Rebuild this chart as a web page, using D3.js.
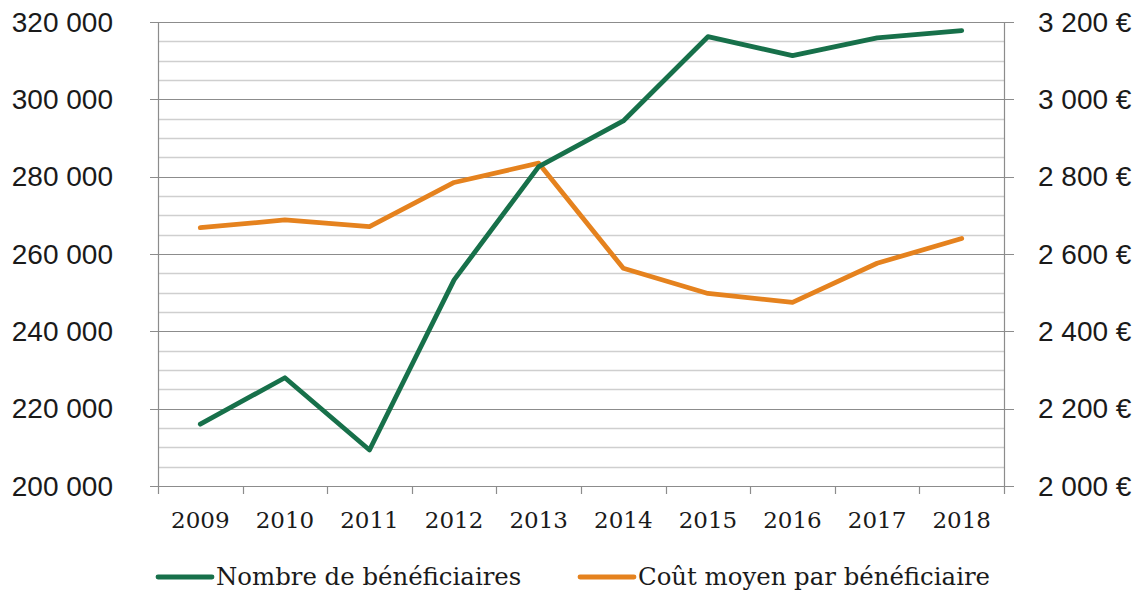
<!DOCTYPE html>
<html>
<head>
<meta charset="utf-8">
<script src="https://cdn.jsdelivr.net/npm/d3@7"></script>
<style>
  html, body { margin: 0; padding: 0; background: #fff; }
  svg { display: block; }
</style>
</head>
<body>
<svg id="chart" width="1143" height="591"></svg>
<script>
const years = ["2009","2010","2011","2012","2013","2014","2015","2016","2017","2018"];
const beneficiaires = [216000, 228000, 209300, 253300, 282600, 294400, 316200, 311300, 315900, 317750];
const coutMoyen = [2668, 2688, 2671, 2785, 2835, 2563, 2498, 2475, 2576, 2640];
const leftTicks = [200000, 220000, 240000, 260000, 280000, 300000, 320000];
const rightTicks = [2000, 2200, 2400, 2600, 2800, 3000, 3200];
const seriesNames = ["Nombre de bénéficiaires", "Coût moyen par bénéficiaire"];

const svg = d3.select("#chart");
const m = { left: 158, right: 1004, top: 22, bottom: 486 };

const x = d3.scaleBand().domain(years).range([m.left, m.right]).padding(0);
const yL = d3.scaleLinear().domain([200000, 320000]).range([m.bottom, m.top]);
const yR = d3.scaleLinear().domain([2000, 3200]).range([m.bottom, m.top]);

const fmtSpace = v => d3.format(",")(v).replace(/,/g, " ");

// minor gridlines (every 5000)
const minor = d3.range(205000, 320000, 5000).filter(v => v % 20000 !== 0);
svg.append("g").selectAll("line").data(minor).join("line")
  .attr("x1", m.left).attr("x2", m.right)
  .attr("y1", d => Math.round(yL(d)) + 0.5).attr("y2", d => Math.round(yL(d)) + 0.5)
  .attr("stroke", "#cfcfcf").attr("stroke-width", 1.3);

// major gridlines
svg.append("g").selectAll("line").data(leftTicks).join("line")
  .attr("x1", m.left - 8).attr("x2", m.right + 10)
  .attr("y1", d => Math.round(yL(d)) + 0.5).attr("y2", d => Math.round(yL(d)) + 0.5)
  .attr("stroke", "#8c8c8c").attr("stroke-width", 1.2);

// axis lines
svg.append("line").attr("x1", m.left + 0.5).attr("x2", m.left + 0.5)
  .attr("y1", m.top).attr("y2", m.bottom + 8).attr("stroke", "#8c8c8c").attr("stroke-width", 1.2);
svg.append("line").attr("x1", m.right + 0.5).attr("x2", m.right + 0.5)
  .attr("y1", m.top).attr("y2", m.bottom + 8).attr("stroke", "#8c8c8c").attr("stroke-width", 1.2);

// x category boundary ticks
const bounds = years.map(y => x(y)).concat([m.right]);
svg.append("g").selectAll("line").data(bounds.slice(1, -1)).join("line")
  .attr("x1", d => Math.round(d) + 0.5).attr("x2", d => Math.round(d) + 0.5)
  .attr("y1", m.bottom).attr("y2", m.bottom + 8)
  .attr("stroke", "#8c8c8c").attr("stroke-width", 1.2);

// left labels
svg.append("g").selectAll("text").data(leftTicks).join("text")
  .attr("x", 113).attr("y", d => yL(d))
  .attr("text-anchor", "end").attr("dominant-baseline", "central")
  .attr("font-family", "Liberation Sans, Arial, sans-serif").attr("font-size", 28)
  .attr("fill", "#1a1a1a")
  .text(d => fmtSpace(d));

// right labels
svg.append("g").selectAll("text").data(rightTicks).join("text")
  .attr("x", 1038).attr("y", d => yR(d))
  .attr("text-anchor", "start").attr("dominant-baseline", "central")
  .attr("font-family", "Liberation Sans, Arial, sans-serif").attr("font-size", 28)
  .attr("fill", "#1a1a1a")
  .text(d => fmtSpace(d) + " €");

// x labels
svg.append("g").selectAll("text").data(years).join("text")
  .attr("x", d => x(d) + x.bandwidth() / 2).attr("y", 528)
  .attr("text-anchor", "middle")
  .attr("font-family", "DejaVu Serif, serif").attr("font-size", 23)
  .attr("fill", "#1a1a1a")
  .text(d => d);

// lines
const green = "#17704a", orange = "#e5821e";
const lineL = d3.line().x((d, i) => x(years[i]) + x.bandwidth() / 2).y(d => yL(d));
const lineR = d3.line().x((d, i) => x(years[i]) + x.bandwidth() / 2).y(d => yR(d));

svg.append("path").datum(coutMoyen).attr("d", lineR)
  .attr("fill", "none").attr("stroke", orange).attr("stroke-width", 4.8)
  .attr("stroke-linejoin", "round").attr("stroke-linecap", "round");
svg.append("path").datum(beneficiaires).attr("d", lineL)
  .attr("fill", "none").attr("stroke", green).attr("stroke-width", 4.8)
  .attr("stroke-linejoin", "round").attr("stroke-linecap", "round");

// legend
const legend = [
  { name: seriesNames[0], color: green, x0: 158 },
  { name: seriesNames[1], color: orange, x0: 580 }
];
const lg = svg.append("g").selectAll("g").data(legend).join("g");
lg.append("line").attr("x1", d => d.x0).attr("x2", d => d.x0 + 54)
  .attr("y1", 577).attr("y2", 577)
  .attr("stroke", d => d.color).attr("stroke-width", 4.8).attr("stroke-linecap", "round");
lg.append("text").attr("x", d => d.x0 + 58).attr("y", 585)
  .attr("font-family", "DejaVu Serif, serif").attr("font-size", 24.4)
  .attr("fill", "#1a1a1a")
  .text(d => d.name);
</script>
</body>
</html>
